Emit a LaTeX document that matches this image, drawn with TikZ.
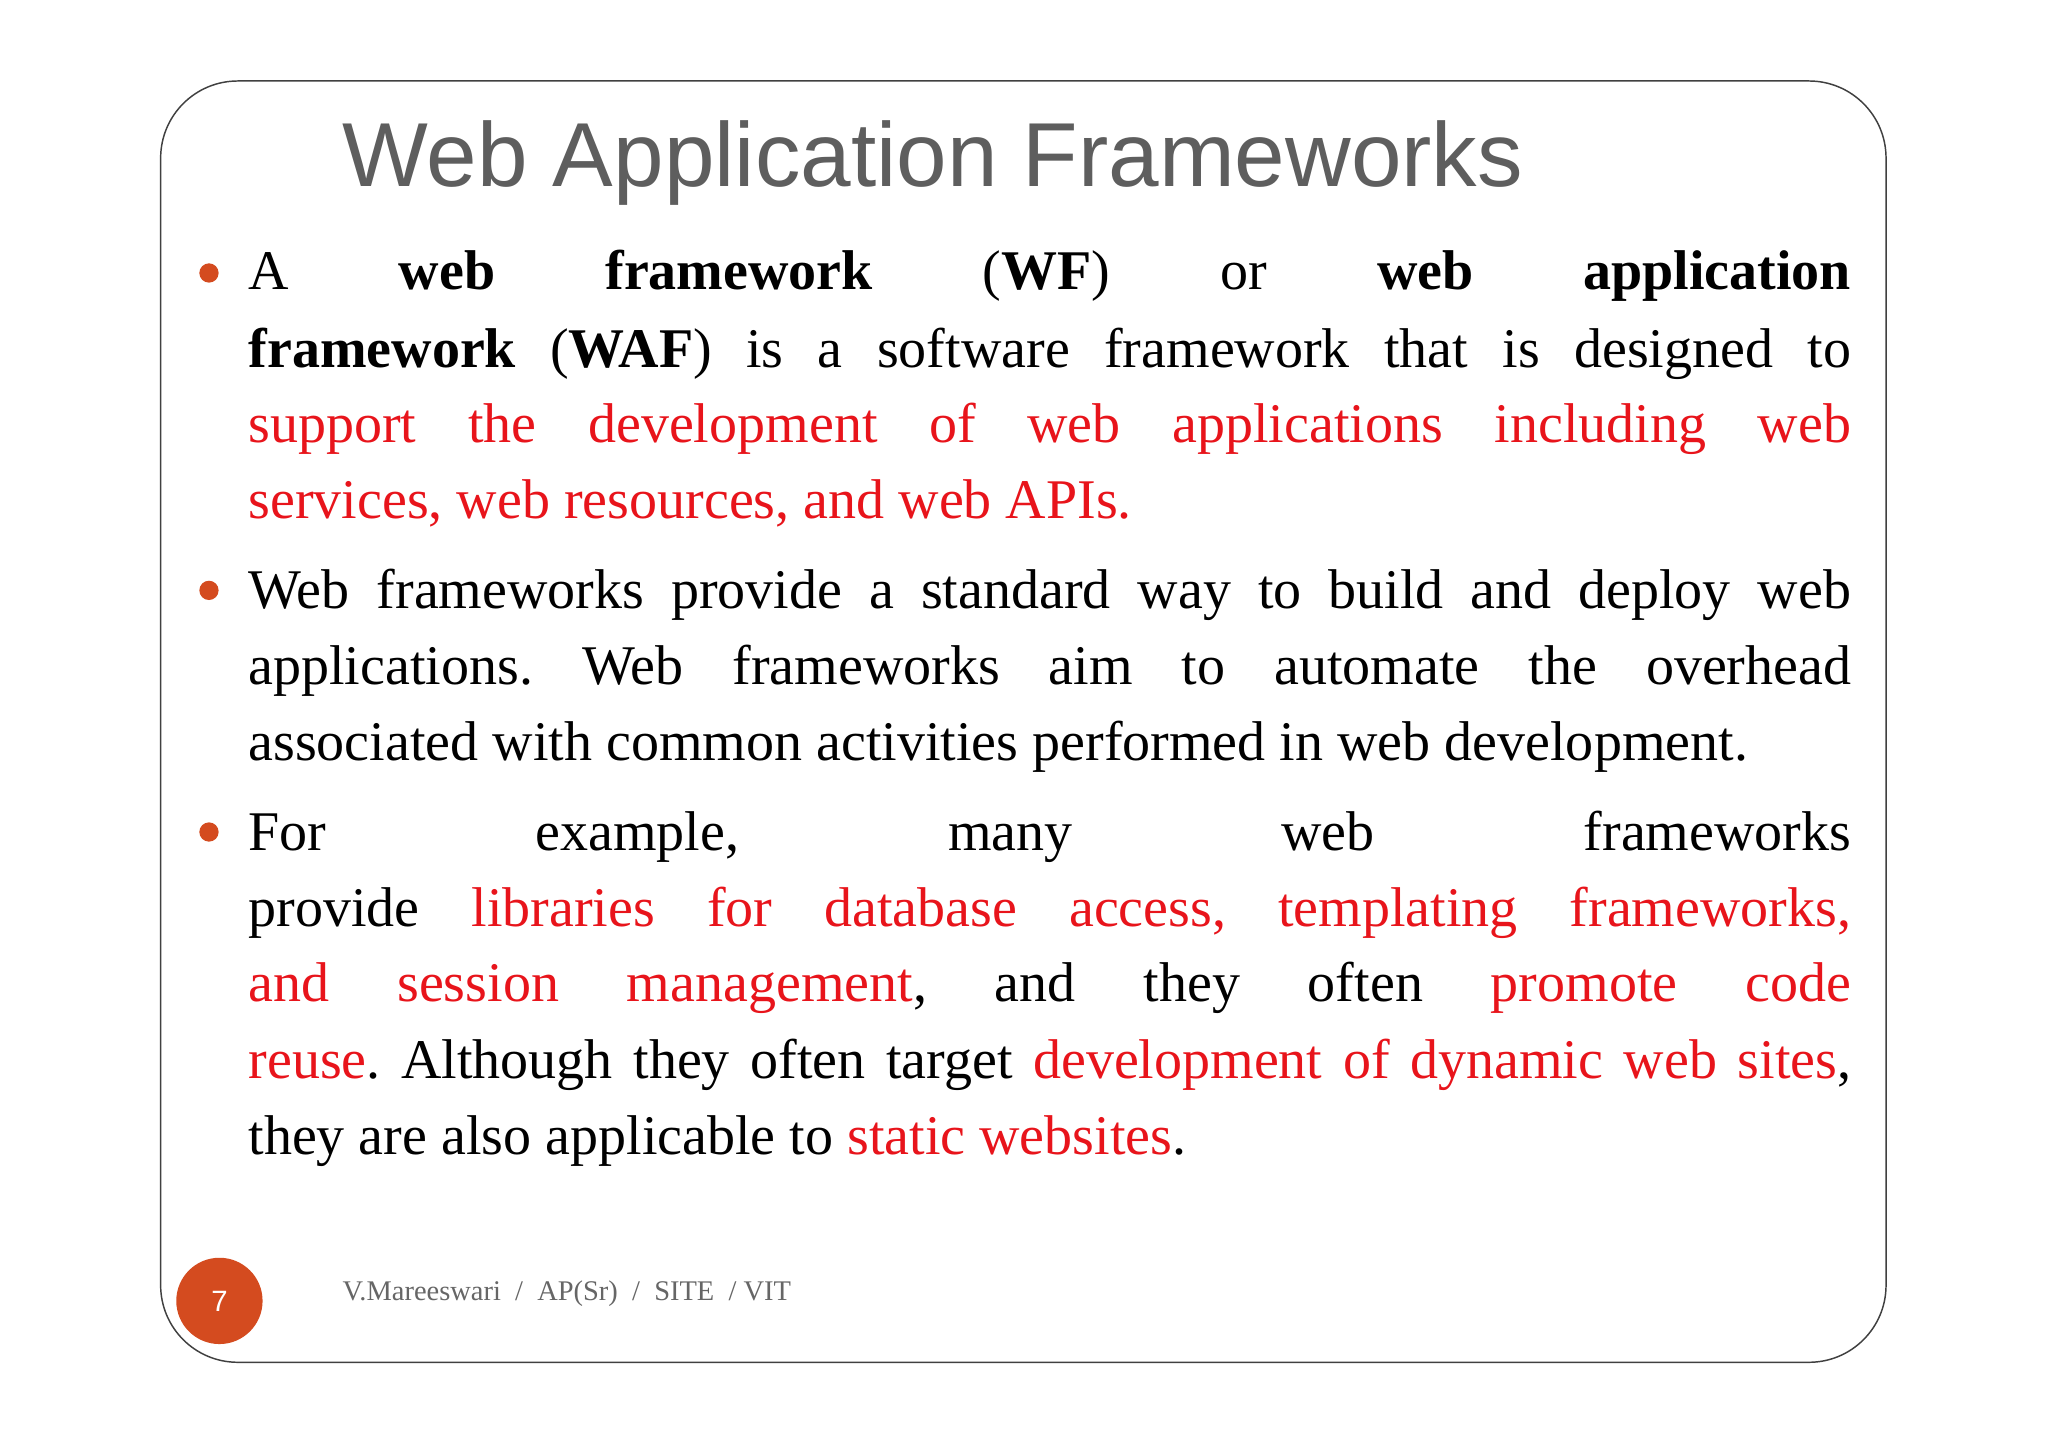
\documentclass[tikz,border=0pt]{standalone}
\usepackage{fontspec}
\setmainfont{Liberation Serif}
\newfontfamily\titlefont{Liberation Sans}
\definecolor{redtxt}{HTML}{E8141B}
\definecolor{orng}{HTML}{D44B1F}
\definecolor{titlegrey}{HTML}{5E5E5E}
\newcommand{\R}[1]{\textcolor{redtxt}{#1}}
\newcommand{\J}[1]{\makebox[306.75mm][s]{#1}}
\frenchspacing
\begin{document}
\begin{tikzpicture}[x=0.25mm,y=-0.25mm,
  bodyline/.style={anchor=base west,inner sep=0pt,font=\fontsize{30.5}{36}\selectfont},
  bul/.style={circle,fill=orng,inner sep=0pt,minimum size=10.5pt}]
\useasboundingbox[fill=white] (0,0) rectangle (1568,1108);
\draw[black!75,line width=0.8pt,rounded corners=42pt] (123,62) rectangle (1444,1043);
\node[anchor=base west,inner sep=0pt,text=titlegrey,font=\titlefont\fontsize{49.5}{56}\selectfont] (title) at (262,143) {Web Application Frameworks};
\node[bul] (b1) at (160,209) {};
\node[bul] (b2) at (160,452) {};
\node[bul] (b3) at (160,637) {};
\node[bodyline] (l1) at (190,222) {\J{A \textbf{web} \textbf{framework} (\textbf{WF}) or \textbf{web} \textbf{application}}};
\node[bodyline] (l2) at (190,281) {\J{\textbf{framework} (\textbf{WAF}) is a software framework that is designed to}};
\node[bodyline] (l3) at (190,339) {\J{\R{support} \R{the} \R{development} \R{of} \R{web} \R{applications} \R{including} \R{web}}};
\node[bodyline] (l4) at (190,397) {\R{services, web resources, and web APIs.}};
\node[bodyline] (l5) at (190,466) {\J{Web frameworks provide a standard way to build and deploy web}};
\node[bodyline] (l6) at (190,524) {\J{applications. Web frameworks aim to automate the overhead}};
\node[bodyline] (l7) at (190,582) {associated with common activities performed in web development.};
\node[bodyline] (l8) at (190,651) {\J{For example, many web frameworks}};
\node[bodyline] (l9) at (190,709) {\J{provide \R{libraries} \R{for} \R{database} \R{access,} \R{templating} \R{frameworks,}}};
\node[bodyline] (l10) at (190,767) {\J{\R{and} \R{session} \R{management}, and they often \R{promote} \R{code}}};
\node[bodyline] (l11) at (190,826) {\J{\R{reuse}. Although they often target \R{development of dynamic web sites},}};
\node[bodyline] (l12) at (190,884) {they are also applicable to \R{static websites}.};
\node[circle,fill=orng,inner sep=0pt,minimum size=47pt,text=white,font=\titlefont\fontsize{16}{18}\selectfont] (pg) at (168,996) {7};
\node[anchor=base west,inner sep=0pt,text=black!60,font=\fontsize{15.5}{17}\selectfont] (foot) at (262,996) {V.Mareeswari\ \ /\ \ AP(Sr)\ \ /\ \ SITE\ \ /\ VIT};
\end{tikzpicture}
\end{document}
